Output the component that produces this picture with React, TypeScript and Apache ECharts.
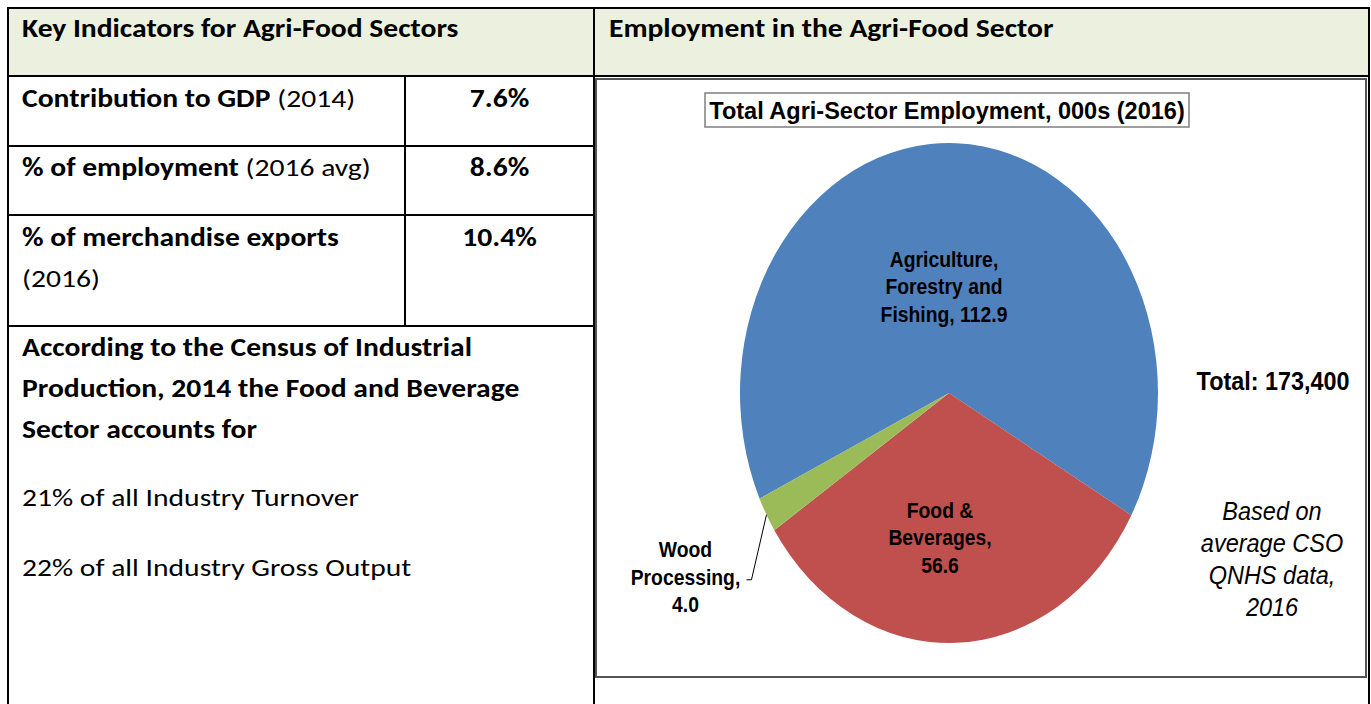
import React, { useEffect, useRef } from "react";
import * as echarts from "echarts";

// ---------- data ----------
const sectors = ["Agriculture, Forestry and Fishing", "Food & Beverages", "Wood Processing"];
const employment = [112.9, 56.6, 4.0];
const sectorLabelText = ["Agriculture,\nForestry and\nFishing,", "Food &\nBeverages,", "Wood\nProcessing,"];
const valueSeparator = [" ", "\n", "\n"];
const sliceColors = ["#4F81BD", "#C0504D", "#9BBB59"];
const chartTitle = "Total Agri-Sector Employment, 000s (2016)";
const totalLabel = "Total: 173,400";
const sourceNote = "Based on\naverage CSO\nQNHS data,\n2016";

const leftHeader = "Key Indicators for Agri-Food Sectors";
const rightHeader = "Employment in the Agri-Food Sector";
const indicatorNames = ["Contribution to GDP", "% of employment", "% of merchandise exports"];
const indicatorPeriods = [" (2014)", " (2016 avg)", "(2016)"];
const indicatorValues = ["7.6%", "8.6%", "10.4%"];
const censusLines = ["According to the Census of Industrial", "Production, 2014 the Food and Beverage", "Sector accounts for"];
const censusFacts = ["21% of all Industry Turnover", "22% of all Industry Gross Output"];

// ---------- layout ----------
const PIE = { cx: 949, cy: 393, rx: 209, ry: 250, startDeg: 245 };
const INSIDE_LABEL_OFFSET: ([number, number] | null)[] = [[-5, -107], [-9, 144], null];
const NARROW = '"Liberation Sans", Arial, sans-serif';
const TABLE_FONT = 'Carlito, Calibri, Lato, sans-serif';
const TABLE_STRETCH = 1.16;

function ChartLayer() {
  const ref = useRef<HTMLDivElement>(null);
  useEffect(() => {
    if (!ref.current) return;
    const chart = echarts.init(ref.current, null, { renderer: "svg" });
    const total = employment.reduce((a, b) => a + b, 0);
    const txt = (o: any) => ({
      ...o,
      style: {
        fill: "#000",
        align: "center",
        textAlign: "center",
        verticalAlign: "middle",
        textVerticalAlign: "middle",
        ...o.style,
      },
    });
    chart.setOption({
      animation: false,
      series: [
        {
          type: "custom",
          coordinateSystem: "none",
          data: employment.map((v, i) => ({ name: sectors[i], value: [v] })),
          renderItem: (params: any, api: any) => {
            const i = params.dataIndex;
            let before = 0;
            for (let k = 0; k < i; k++) before += employment[k];
            const v = api.value(0);
            const t0 = PIE.startDeg + (before / total) * 360;
            const t1 = t0 + (v / total) * 360;
            const rad = (t: number) => ((t - 90) * Math.PI) / 180;
            const mid = (((t0 + t1) / 2) * Math.PI) / 180;
            const ux = Math.sin(mid);
            const uy = -Math.cos(mid);
            const label = sectorLabelText[i] + valueSeparator[i] + v.toFixed(1);
            const children: any[] = [
              {
                type: "sector",
                x: PIE.cx,
                y: PIE.cy,
                scaleY: PIE.ry / PIE.rx,
                shape: { cx: 0, cy: 0, r: PIE.rx, r0: 0, startAngle: rad(t0), endAngle: rad(t1), clockwise: true },
                style: { fill: sliceColors[i] },
              },
            ];
            const off = INSIDE_LABEL_OFFSET[i];
            const font = { fontSize: 22.5, fontWeight: "bold", fontFamily: NARROW, lineHeight: 27.5 };
            if (off) {
              children.push(
                txt({ type: "text", x: PIE.cx + off[0], y: PIE.cy + off[1], scaleX: 0.86, z2: 10, style: { text: label, ...font } })
              );
            } else {
              const ex = PIE.cx + ux * PIE.rx;
              const ey = PIE.cy + uy * PIE.ry;
              const ly = ey + 65;
              children.push({
                type: "polyline",
                shape: { points: [[ex, ey], [ex - 15, ly], [ex - 20, ly]] },
                style: { stroke: "#000", lineWidth: 1, fill: "none" },
                z2: 10,
              });
              children.push(
                txt({ type: "text", x: ex - 81, y: ly - 3, scaleX: 0.86, z2: 10, style: { text: label, ...font } })
              );
            }
            return { type: "group", children };
          },
        },
      ],
      graphic: [
        {
          type: "rect",
          shape: { x: 705, y: 93, width: 484, height: 34 },
          style: { fill: "#fff", stroke: "#7f7f7f", lineWidth: 1.5 },
        },
        txt({
          type: "text",
          x: 947,
          y: 110.5,
          scaleX: 0.96,
          style: { text: chartTitle, fontSize: 24.5, fontWeight: "bold", fontFamily: NARROW },
        }),
        txt({
          type: "text",
          x: 1273,
          y: 381,
          scaleX: 0.935,
          style: { text: totalLabel, fontSize: 25, fontWeight: "bold", fontFamily: NARROW },
        }),
        txt({
          type: "text",
          x: 1272,
          y: 559,
          scaleX: 0.94,
          style: { text: sourceNote, fontSize: 25, fontStyle: "italic", fontFamily: NARROW, lineHeight: 32 },
        }),
      ],
    });
    return () => chart.dispose();
  }, []);
  return <div ref={ref} style={{ position: "absolute", left: 0, top: 0, width: 1371, height: 704 }} />;
}

const bar = (l: number, t: number, w: number, h: number, c = "#000") => (
  <div style={{ position: "absolute", left: l, top: t, width: w, height: h, background: c }} />
);

const textStyle = (l: number, center: number, extra: any = {}) => ({
  position: "absolute" as const,
  left: l,
  top: center - 20.5,
  lineHeight: "41px",
  fontSize: 25.5,
  fontFamily: TABLE_FONT,
  color: "#000",
  whiteSpace: "nowrap" as const,
  transform: `scaleX(${TABLE_STRETCH})`,
  transformOrigin: "left center",
  ...extra,
});

export default function App() {
  return (
    <div style={{ position: "fixed", left: 0, top: 0, width: 1371, height: 704, background: "#fff", overflow: "hidden" }}>
      {/* header fill */}
      {bar(9, 9, 1359, 66, "#EBF1DE")}
      {/* chart box */}
      <div
        style={{
          position: "absolute",
          left: 595,
          top: 78,
          width: 772,
          height: 600,
          boxSizing: "border-box",
          border: "2px solid #555",
        }}
      />
      {/* grid lines */}
      {bar(7, 7, 1363, 2)}
      {bar(7, 7, 2, 697)}
      {bar(1368, 7, 2, 697)}
      {bar(593, 7, 2, 697)}
      {bar(7, 75, 1363, 2)}
      {bar(7, 145, 588, 2)}
      {bar(7, 214, 588, 2)}
      {bar(7, 325, 588, 2)}
      {bar(404, 75, 2, 252)}

      <div style={textStyle(22, 28, { fontWeight: "bold" })}>{leftHeader}</div>
      <div style={textStyle(609, 28, { fontWeight: "bold" })}>{rightHeader}</div>

      <div style={textStyle(22, 98)}>
        <b>{indicatorNames[0]}</b>
        {indicatorPeriods[0]}
      </div>
      <div style={textStyle(22, 167)}>
        <b>{indicatorNames[1]}</b>
        {indicatorPeriods[1]}
      </div>
      <div style={textStyle(22, 237)}>
        <b>{indicatorNames[2]}</b>
        <br />
        {indicatorPeriods[2]}
      </div>
      {indicatorValues.map((v, i) => (
        <div
          key={v}
          style={textStyle(406, [98, 167, 237][i], {
            width: 187,
            textAlign: "center",
            fontWeight: "bold",
            transformOrigin: "center center",
          })}
        >
          {v}
        </div>
      ))}
      <div style={textStyle(22, 347, { fontWeight: "bold" })}>
        {censusLines.map((l, i) => (
          <div key={i}>{l}</div>
        ))}
      </div>
      <div style={textStyle(22, 497)}>{censusFacts[0]}</div>
      <div style={textStyle(22, 567)}>{censusFacts[1]}</div>

      <ChartLayer />
    </div>
  );
}
